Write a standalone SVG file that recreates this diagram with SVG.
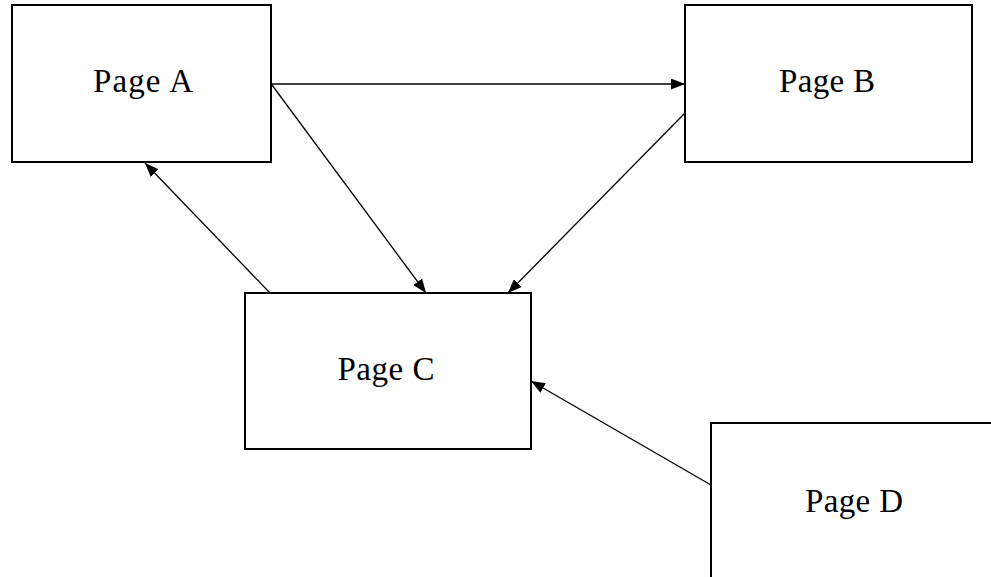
<svg xmlns="http://www.w3.org/2000/svg" width="991" height="577" viewBox="0 0 991 577">
<style>
.box{fill:#fff;stroke:#000;stroke-width:2}
.lbl{font-family:"Liberation Serif","Times New Roman",serif;font-size:33px;fill:#000;text-anchor:middle}
.edge{stroke:#000;stroke-width:1.3;fill:none;marker-end:url(#ah)}
</style>
<defs>
<marker id="ah" viewBox="0 0 14 11" refX="14" refY="5.5" markerWidth="14" markerHeight="11" markerUnits="userSpaceOnUse" orient="auto">
<path d="M0,0 L14,5.5 L0,11 Z" fill="#000"/>
</marker>
</defs>
<rect width="991" height="577" fill="#fff"/>
<g id="connectors">
<line class="edge" x1="271" y1="84" x2="685" y2="84"/>
<line class="edge" x1="272" y1="85" x2="426" y2="293"/>
<line class="edge" x1="685" y1="113" x2="508" y2="293"/>
<line class="edge" x1="270" y1="293" x2="145" y2="163"/>
<line class="edge" x1="711" y1="485" x2="531" y2="381"/>
</g>
<g id="pageA">
<rect class="box" x="12" y="5" width="259" height="157"/>
<text class="lbl" x="143" y="92" textLength="100">Page A</text>
</g>
<g id="pageB">
<rect class="box" x="685" y="5" width="287" height="157"/>
<text class="lbl" x="827" y="92" textLength="96">Page B</text>
</g>
<g id="pageC">
<rect class="box" x="245" y="293" width="286" height="156"/>
<text class="lbl" x="386" y="380" textLength="97">Page C</text>
</g>
<g id="pageD">
<rect class="box" x="711" y="423" width="300" height="170"/>
<text class="lbl" x="854" y="512" textLength="98">Page D</text>
</g>
</svg>
